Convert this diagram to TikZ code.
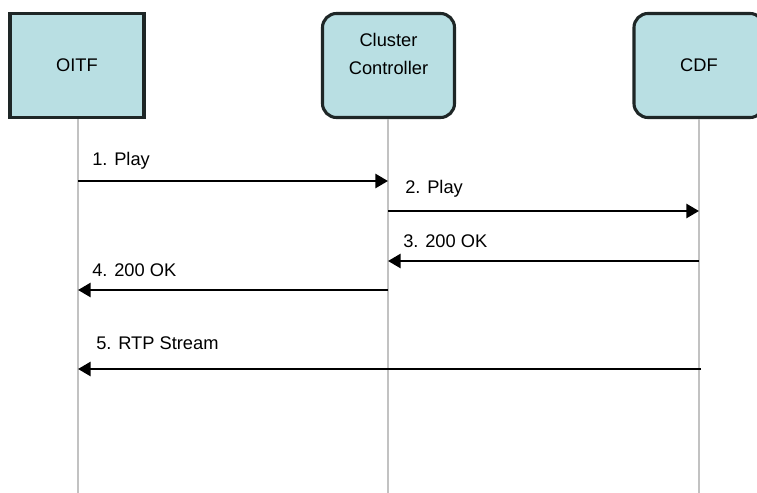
\documentclass[tikz,border=0pt]{standalone}
\usepackage{fontspec}
\setmainfont{Liberation Sans}
\usepackage{tikz}
\usetikzlibrary{calc,positioning,arrows.meta}

\definecolor{boxfill}{HTML}{B9DFE3}
\definecolor{boxline}{HTML}{1E2626}
\definecolor{lifegray}{HTML}{C2C2C2}

\tikzset{
	party/.style={draw=boxline,line width=2.2pt,fill=boxfill,minimum width=3.35cm,
		minimum height=2.6cm,align=center,font=\fontsize{13}{20}\selectfont},
	lifeline/.style={draw=lifegray,line width=1.4pt},
	msg/.style={line width=1.8pt,-{Triangle[length=9pt,width=10pt]}},
	msglabel/.style={font=\fontsize{13}{15}\selectfont,anchor=south west,inner sep=0pt}
}

\begin{document}
\begin{tikzpicture}[x=0.025cm,y=-0.025cm]
		\useasboundingbox (0,0) rectangle (757,493);
		\clip (0,0) rectangle (757,493);
		% parties
		\node(oitf) [party,sharp corners] at (77,65.5) {OITF};
		\node(cc) [party,rounded corners=10pt,minimum width=3.3cm] at (388.5,65.5) {Cluster\\Controller\\[-3.6pt]};
		\node(cdf) [party,rounded corners=10pt,minimum width=3.25cm] at (699,65.5) {CDF};
		% lifelines
		\coordinate (oitfend) at (78,493);
		\coordinate (ccend) at (388,493);
		\coordinate (cdfend) at (699,493);
		\draw[lifeline] (oitf.south -| oitfend) -- (oitfend);
		\draw[lifeline] (cc.south -| ccend) -- (ccend);
		\draw[lifeline] (cdf.south -| cdfend) -- (cdfend);
		% messages
		\coordinate (m1s) at (78,181);  \coordinate (m1e) at (388,181);
		\coordinate (m2s) at (388,211); \coordinate (m2e) at (699,211);
		\coordinate (m3s) at (699,261); \coordinate (m3e) at (388,261);
		\coordinate (m4s) at (388,290); \coordinate (m4e) at (78,290);
		\coordinate (m5s) at (701,369); \coordinate (m5e) at (78,369);
		\draw[msg] (m1s) -- (m1e);
		\draw[msg] (m2s) -- (m2e);
		\draw[msg] (m3s) -- (m3e);
		\draw[msg] (m4s) -- (m4e);
		\draw[msg] (m5s) -- (m5e);
		\node(l1) [msglabel] at (92,170) {1. Play};
		\node(l2) [msglabel] at (405,198) {2. Play};
		\node(l3) [msglabel] at (403,248) {3. 200 OK};
		\node(l4) [msglabel] at (92,277) {4. 200 OK};
		\node(l5) [msglabel] at (96,350) {5. RTP Stream};
\end{tikzpicture}
\end{document}
